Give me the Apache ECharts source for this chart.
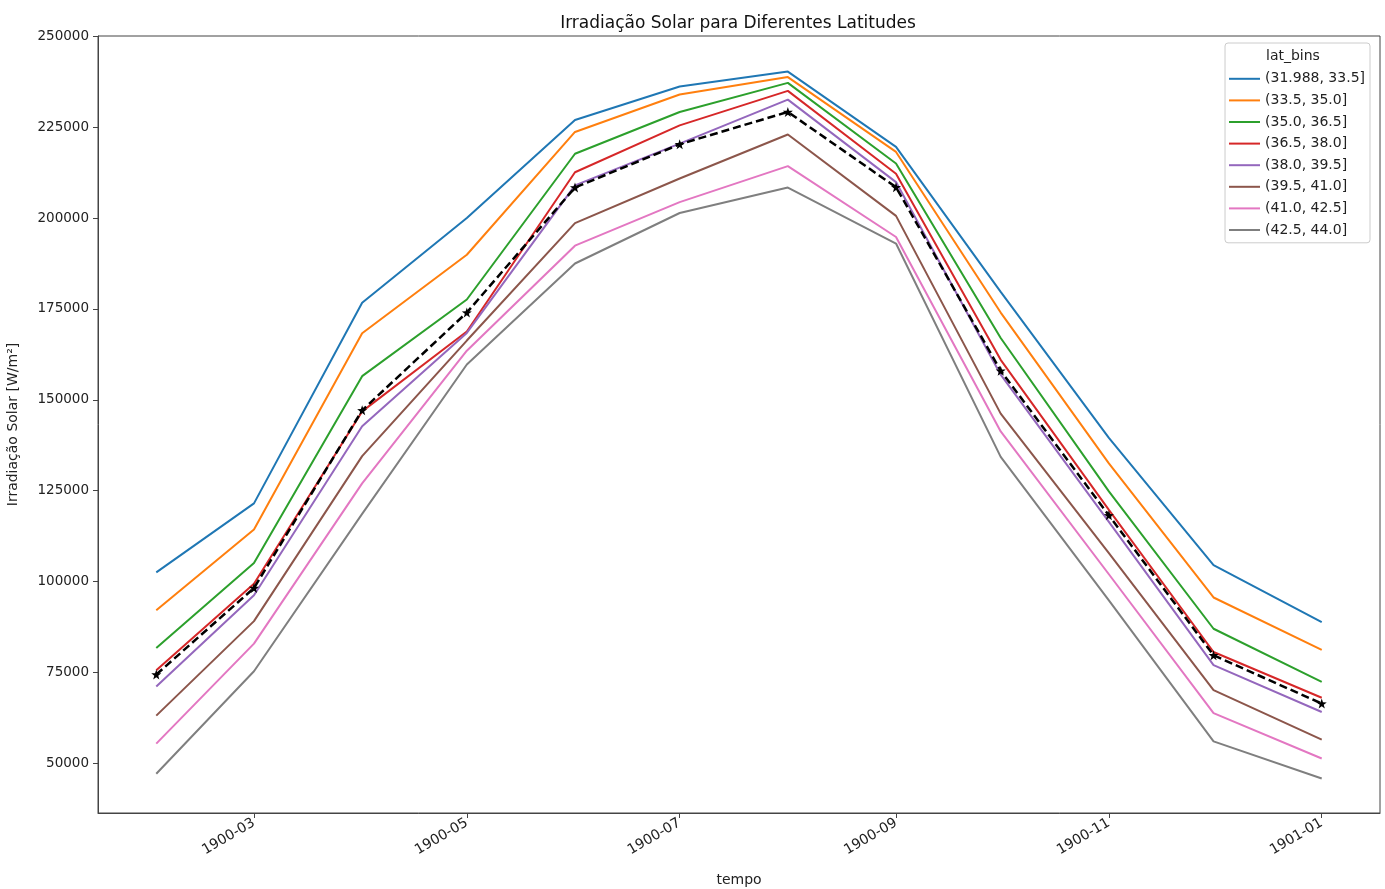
<!DOCTYPE html>
<html>
<head>
<meta charset="utf-8">
<script src="https://cdn.jsdelivr.net/npm/echarts@6/dist/echarts.min.js"></script>
<style>
html,body{margin:0;padding:0;background:#fff;}
#chart{width:1385px;height:889px;}
</style>
</head>
<body>
<div id="chart"></div>
<script>
// ---- data ----
const months = ['1900-02','1900-03','1900-04','1900-05','1900-06','1900-07','1900-08','1900-09','1900-10','1900-11','1900-12','1901-01'];
const binNames = ['(31.988, 33.5]','(33.5, 35.0]','(35.0, 36.5]','(36.5, 38.0]','(38.0, 39.5]','(39.5, 41.0]','(41.0, 42.5]','(42.5, 44.0]'];
const bin1 = [102500,121500,176700,200000,227000,236200,240300,219600,179700,139500,104500,88800];
const bin2 = [92100,114300,168300,189900,223700,234000,238800,218200,174000,132500,95600,81200];
const bin3 = [81700,105100,156500,177600,217700,229200,237200,215000,167000,124800,87000,72400];
const bin4 = [75600,99400,146800,168800,212600,225500,235000,212200,161000,119700,80600,68000];
const bin5 = [71100,96200,142700,168400,209000,220500,232600,209900,156900,116400,77000,64100];
const bin6 = [63100,89100,134500,166300,198600,210900,223000,200600,146200,107800,70100,56500];
const bin7 = [55400,82900,127000,163500,192400,204400,214300,194800,141300,102000,63800,51300];
const bin8 = [47100,75300,118600,159700,187500,201400,208400,193000,134300,94800,56000,45800];
const meanAll = [74400,98200,147100,174000,208400,220300,229200,208500,158000,118200,79700,66400];
const xTickMonths = ['1900-03','1900-05','1900-07','1900-09','1900-11','1901-01'];
const yTicks = [50000,75000,100000,125000,150000,175000,200000,225000,250000];

// ---- helpers ----
function toTime(m){ const p = m.split('-'); return Date.UTC(+p[0], +p[1]-1, 1); }
function fmtMonth(v){ const d = new Date(v); const m = d.getUTCMonth()+1; return d.getUTCFullYear() + '-' + (m<10?'0':'') + m; }
const times = months.map(toTime);
const pad = 0.05 * (times[times.length-1] - times[0]);
const colors = ['#1f77b4','#ff7f0e','#2ca02c','#d62728','#9467bd','#8c564b','#e377c2','#7f7f7f'];
const bins = [bin1,bin2,bin3,bin4,bin5,bin6,bin7,bin8];
const FONT = 'DejaVu Sans';
const star = 'path://M0,-10 L2.35,-3.24 L9.51,-3.09 L3.8,1.24 L5.88,8.09 L0,4 L-5.88,8.09 L-3.8,1.24 L-9.51,-3.09 L-2.35,-3.24 Z';

const series = bins.map((b,i)=>({
  name: binNames[i], type:'line', data: b.map((v,j)=>[times[j], v]),
  showSymbol:false, symbol:'none', lineStyle:{color:colors[i], width:2}, itemStyle:{color:colors[i]},
  emphasis:{disabled:true}, animation:false, z:2
}));
series.push({
  name:'média', type:'line', data: meanAll.map((v,j)=>[times[j], v]),
  symbol: star, symbolSize: 10, showSymbol:true,
  lineStyle:{color:'#000', width:2.5, type:[8,4]}, itemStyle:{color:'#000'},
  emphasis:{disabled:true}, animation:false, z:5
});

const chart = echarts.init(document.getElementById('chart'));
chart.setOption({
  animation:false,
  backgroundColor:'#fff',
  title:{
    text:'Irradiação Solar para Diferentes Latitudes',
    left: 733, top: 10, textAlign:'center',
    textStyle:{fontFamily:FONT, fontSize:17, fontWeight:'normal', color:'#111'}
  },
  grid:{left:98, right:5, top:36, bottom:76, show:true, borderColor:'#444', borderWidth:1,
        containLabel:false, outerBoundsMode:'none'},
  legend:{
    data: binNames, right:15, top:43, orient:'vertical',
    icon:'rect', itemWidth:31, itemHeight:2, itemGap:0, itemTextGap:10,
    padding:[25,5,2,4],
    borderColor:'#ccc', borderWidth:1, borderRadius:3, backgroundColor:'rgba(255,255,255,0.8)',
    textStyle:{fontFamily:FONT, fontSize:14, color:'#222', lineHeight:21.6},
    selectedMode:false
  },
  graphic:[{
    type:'text', left:1266, top:49,
    style:{text:'lat_bins', font:'14px "DejaVu Sans"', fill:'#222'}, z:100
  }],
  xAxis:{
    type:'value', min: times[0]-pad, max: times[times.length-1]+pad, scale:true,
    name:'tempo', nameLocation:'middle', nameGap:60,
    nameTextStyle:{fontFamily:FONT, fontSize:14, color:'#222'},
    axisLine:{show:true, lineStyle:{color:'#444'}},
    axisTick:{show:true, length:5, lineStyle:{color:'#444'}, customValues: xTickMonths.map(toTime)},
    axisLabel:{
      customValues: xTickMonths.map(toTime), rotate:30, margin:9,
      fontFamily:FONT, fontSize:14, color:'#222',
      formatter: fmtMonth
    },
    splitLine:{show:false}
  },
  yAxis:{
    type:'value', min:36300, max:250100,
    name:'Irradiação Solar [W/m²]', nameLocation:'middle', nameGap:78, nameRotate:90,
    nameTextStyle:{fontFamily:FONT, fontSize:14, color:'#222'},
    axisLine:{show:true, lineStyle:{color:'#444'}},
    axisTick:{show:true, length:5, lineStyle:{color:'#444'}, customValues: yTicks},
    axisLabel:{customValues: yTicks, fontFamily:FONT, fontSize:13.5, color:'#222', margin:9,
      formatter: function(v){ return String(v); }},
    splitLine:{show:false}
  },
  series: series
});
</script>
</body>
</html>
